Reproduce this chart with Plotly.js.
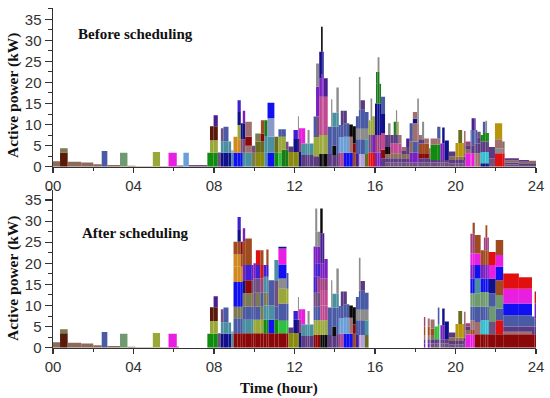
<!DOCTYPE html>
<html><head><meta charset="utf-8">
<script src="https://cdn.plot.ly/plotly-3.0.1.min.js"></script>
<style>html,body{margin:0;padding:0;background:#fff}#c{width:550px;height:398px}</style>
</head><body><div id="c"></div>
<script>
// Each row: start hour, end hour, cumulative stack tops (kW), appliance colour keys
const nightShared = [
 [0,.35,[1.3],'a'],[.35,.73,[3.4,4.4],'bc'],[.73,1.4,[1.2],'a'],[1.4,2,[1],'a'],[2,2.42,[.6],'a'],
 [2.42,2.7,[3.7],'d'],[2.7,3.33,[.4],'a'],[3.33,3.7,[3.3],'e'],[3.7,4.1,[.2],'a'],[4.1,4.96,[.1],'a'],
 [4.96,5.32,[3.5],'f'],[5.32,5.74,[.1],'a'],[5.74,6.15,[3.3],'g'],[6.15,6.25,[.3],'a']];
const nightBeforeOnly = [[6.25,6.48,[.3],'y'],[6.48,6.75,[3.3],'h'],[6.75,7.67,[.4],'y']];
const morningShared = [
 [7.67,7.8,[3.3],'i'],[7.8,7.98,[3.3,6.3,9.6],'ifb'],[7.98,8.19,[3.3,6.3,9.6,12.2],'ifbC'],
 [8.19,8.34,[3.4],'y'],[8.34,8.47,[3.3,6,9.1],'jly'],[8.47,8.72,[3.3,6,9.5],'jld'],
 [8.72,8.85,[3.3,6],'jl'],[8.85,8.97,[3.4,3.9],'lA']];
const morningBefore = [
 [8.97,9.17,[3.3,7.1],'kq'],[9.17,9.33,[3.3,6.5,9.9,13,15.8],'kqfjG'],[9.33,9.43,[3.3,6.5,10.3],'kyj'],
 [9.43,9.55,[3.3,6.5,10.3,13.3],'lyjo'],[9.55,9.88,[3.3,5,7.1,10.7],'lEnE'],[9.88,10.05,[3.3,5],'cy'],
 [10.05,10.33,[3.3,6,7.9],'mHc'],[10.33,10.5,[3.3,6,7.9,11],'mHnB'],[10.5,10.66,[3.3,7.3,11],'llF'],
 [10.66,11,[3.3,7.2,11.5,15.2],'kluk'],[11,11.2,[3.3,7.1],'iH'],[11.2,11.37,[3.3,7.1,8.9],'zfd'],
 [11.37,11.57,[4,7.1,8.9],'Ffd'],[11.57,11.7,[4,5.9],'Fy']];
const morningAfter = [
 [8.97,9.17,[3.4,7,9.7,12.5,15.6,19.2,22.1,25.1],'ndckkqqB'],
 [9.17,9.33,[3.4,7,9.7,12.5,15.6,19.2,22.1,25.1,27.9,31],'ndckkqqBjG'],
 [9.33,9.43,[3.4,7,9.7,12.5,15.6,19.2,22.1,25.1],'ndckkqBn'],
 [9.43,9.55,[3.4,6.6,9.7,12.9,16,19.6,25.1,28.3],'nldcjoBo'],
 [9.55,9.88,[3.4,6.6,9.7,12.9,16,19.6,25.9],'nldcnGB'],[9.88,9.96,[3.4,6.6,9.7,12.9,16,19.6],'nldcyo'],
 [9.96,10.08,[3.4,6.6,9.7,13,16.4,20],'nfdyyo'],[10.08,10.3,[3.4,6.6,9.7,13,16.4,19.6,23.1],'nfdcyGp'],
 [10.3,10.46,[3.4,6.6,9.7,13,16.4,19.6,23.1],'nfcdrpB'],[10.46,10.6,[3.4,6.6,10,13,16.8,19.6],'nilclG'],
 [10.6,10.71,[3.4,6.6,10,13,16.8,19.6,23.3],'nilclGB'],[10.71,11,[3.4,6.6,10,16],'nkld'],
 [11,11.2,[3.4,6.6,9.7,15.8,20.8],'nidyl'],[11.2,11.6,[3.4,6.4,10.5,14,16.4,19.7,23.5,23.9],'nzdfvkgj'],
 [11.6,11.7,[3.4,6.4,10.5,14,17.7],'nzdfd']];
const noonShared = [
 [11.7,11.95,[3.5,4.8],'mD'],[11.95,12.17,[3.5,6.6,8.7],'mjG'],[12.17,12.22,[3.5,6.6,12],'mjv'],
 [12.22,12.33,[3.5,6.6,9.1],'jrg'],[12.33,12.53,[2.8,5.5,9.1],'Dlg'],[12.53,12.65,[2.8,5.5],'Dl'],
 [12.65,12.75,[2.8,5.5,8.7],'Dlv'],[12.75,12.95,[2.8,5.5],'Dl']];
const peakBefore = [
 [12.95,13.07,[2.5,7,11.9],'Dfd'],[13.07,13.23,[2.5,7,12,19,24.5],'Dfyov'],
 [13.23,13.32,[3,7.5,16.6,21,27.3],'tfsoj'],[13.32,13.4,[3,7.5,16.6,22,27.3,33.2],'tfsojt'],
 [13.4,13.45,[3,7.5,16.6,21,27.3],'tfsoj'],[13.45,13.65,[3,7.5,16.6,21],'tfsC']];
const peakAfter = [
 [12.95,13.03,[3,6.5,9.7,13,16.8,24],'nfdyGo'],[13.03,13.13,[3,6.5,9.7,13,16.8,20,24,27.5,33],'nfdyGGovv'],
 [13.13,13.28,[3,6.5,9.7,13,16.8,20,24,27.5],'nfdyrGov'],[13.28,13.4,[3,6.5,10,13.7,16.4,20,27.1,33],'tfssroCt'],
 [13.4,13.48,[3,6.5,10,13.7,16.4,20,27.1],'tfssroC'],[13.48,13.65,[3,6.5,10,13.7,16.4,21],'tfssro']];
const afternoonShared = [
 [13.65,13.82,[3,9.5],'Dd'],[13.82,13.88,[3,9.5,16],'Ddv'],[13.88,14.08,[2.8,5,9.5,12.8],'Dtdl'],
 [14.08,14.2,[3,9.5,12.8,18.8],'Ddlv'],[14.2,14.3,[3.3,7,9.9],'rhd'],[14.3,14.44,[3.3,7,9.9,13.3],'shdD'],
 [14.44,14.6,[3.3,7.1,10.3,13.3],'khdD'],[14.6,14.72,[3.3,7.1,10.3],'khd'],[14.72,14.9,[3.3,7.1,10],'kEt'],
 [14.9,15.05,[3.3,5.5,9.6],'Bnt'],[15.05,15.2,[3,6.5,9,12],'Cdvd'],[15.2,15.28,[3,6.5,9,13.5,21.3],'Advdv'],
 [15.28,15.5,[3,6.5,9,13.5,15.8],'AdvdD'],[15.5,15.68,[3,6.5,9,13],'Hlvd']];
const afternoonBefore = [
 [15.68,15.78,[3.3,7.5,11],'pyf'],[15.78,15.86,[3.3,7.5,11,16.2],'pyfv'],[15.86,16,[3.3,7.5,12],'pof'],
 [16,16.05,[3.3,7.5,15],'orj'],[16.05,16.13,[3.3,7.5,15,19.7,22.5],'orjFF'],[16.13,16.22,[3.3,7.5,15,22.5,26],'orjFv'],
 [16.22,16.3,[3.3,7.5,15,19.7],'orjF'],[16.3,16.5,[2,4,8,12.5,16.6],'Dnsjd'],
 [16.5,16.65,[1,2,3,4.7,7.5],'yDatD'],[16.65,16.77,[1,2,3,4.7,7.5,10.3],'yDatDv'],
 [16.77,16.93,[1,2,3.2,5.5,7.5],'yDasD'],[16.93,17.04,[1,2,3.2,5.5,7.5,10.7],'yDasDF'],
 [17.04,17.1,[1,2,3.2,5.5,7.5,13.4],'yDasDv'],[17.1,17.18,[1,2,3.2,5.5,7.5,10.7],'yDasDf'],
 [17.18,17.32,[1,2,3.2,5.5,7.5],'yDasE'],[17.32,17.55,[1,2,3,3.9,4.7],'yDaDE'],[17.55,17.72,[1,2,3,4.7,6.7],'yDaDC'],
 [17.72,17.88,[1,3.3,6,10.3],'yoad'],[17.88,18.1,[1,3.3,6,10.3,11.4,13],'yodEjE'],[18.1,18.18,[1,3.3,6,10.3,16.2],'yodEv'],
 [18.18,18.34,[1,2,3,5.5,6.5,7.5],'yDnBDE'],[18.34,18.44,[1,2,3,5.5,6.5,10.7],'yDnBDv'],[18.44,18.68,[1,2,3,5.5,6.7],'yDnBE'],
 [18.68,18.76,[1,2,3,4.4],'yDaE'],[18.76,19.09,[1,1.6,5.2,6.7],'yDiE'],[19.09,19.25,[1,1.6,5.2,6.7,9.5],'yDiEd'],
 [19.25,19.34,[1,1.6,5.5],'yDo'],[19.34,19.46,[1,1.6,5.5,9.3],'yDoj'],[19.46,19.67,[1,1.6,6.2],'yDj']];
const dipShared = [
 [19.67,20,[.8,1.6,2.4,3.6],'yDaD'],[20,20.14,[.8,1.6,2.4,5.6],'yDaw'],[20.14,20.33,[.8,1.6,2.4,5.6,8.7],'yDawH'],
 [20.33,20.42,[.8,1.6,2.4,5.6],'yDaw'],[20.42,20.5,[1.6,2.4,3,8.5],'yDaE']];
const eveningBefore = [
 [20.5,20.75,[3.2,4.2,5.1,6],'gaDr'],[20.75,20.8,[3.2,5.1,8.7],'gDd'],[20.8,20.94,[3.2,5.1,8.7,11.5],'gDdC'],
 [20.94,21,[3.2,5.5,8.7,11.5],'EDdC'],[21,21.08,[3.2,5.5,8.7],'EDd'],[21.08,21.25,[3.2,5.5,7,8.3],'EDDy'],
 [21.25,21.36,[.8,3.5,6,7.5],'jxDF'],[21.36,21.49,[.8,3.5,6,8,10.7],'jxDid'],[21.49,21.57,[.8,3.5,6,8,10.9],'jxDiv'],
 [21.57,21.66,[.8,3.5,6,8],'jxDi'],[21.66,21.96,[2,4.7],'yD'],[21.96,22.32,[3.2,4.4,6.5,10.3],'pvEw'],
 [22.32,22.44,[3.2,4.4,6],'pEa'],[22.44,23.15,[.5,1,1.5,2],'yDaD'],[23.15,23.65,[.4,.8,1.2,1.6],'yDaD'],[23.65,24,[.4,.8,1.4],'yDa']];
const lateAfterStart = [
 [18.43,18.5,[1,2,3,5,7.3],'oDEBr'],[18.62,18.72,[1,2,3,5,6.9],'oDEBE'],[18.76,18.96,[1,2,3,4.5,6.7],'yDaBE'],
 [18.96,19.12,[1,2,5],'yDz'],[19.12,19.2,[1,2,5.5,9.5],'yDzd'],[19.25,19.34,[1,2,5.3],'yDo'],
 [19.34,19.46,[1,2,5.3,9.3],'yDoj'],[19.46,19.67,[1,2,6.2],'yDj']];
const eveningAfter = [
 [20.5,20.74,[3.1,4.2,5,5.8],'gaDr'],[20.74,20.85,[3.1,4.2,6.5,9.7,12.9,16.4,19.6,22.3,27],'gBEdekogr'],
 [20.85,20.96,[3.1,4.2,6.5,9.7,12.9,16.4,19.6,22.3,27,29.6],'gBEdekogrB'],
 [20.96,21.25,[3.2,6.1,9.7,12.9,16.4,19.6,22.3,26.7],'nEdelkgB'],[21.25,21.41,[3.2,6.5,9.7,13.2,16.4,19.6,23.1],'nxdekoB'],
 [21.41,21.49,[3.2,6.5,9.7,13.2,16.4,19.6,23.1,26.1],'nxdekoBr'],[21.49,21.58,[3.2,6.5,9.7,13.2,16.4,19.6,23.1,26.1,29],'nxdekoBrB'],
 [21.58,21.66,[3.2,6.5,9.7,13.2,16.4,19.6,23.1,26.1],'nxdekoBr'],[21.66,22,[3.2,6.1,9.7,12.9,16.4,19.6,22.7],'nyedjgp'],
 [22,22.37,[3.2,6.5,9.3,12.5,16,19.2,22,25.5],'npdeBkgB'],[22.37,23.15,[3.2,3.8,5,7.7,10.5,14,17.6],'nEDdkgp'],
 [23.15,23.8,[3.2,3.8,5,7.7,10.5,14,16.7],'nEDdkgp'],[23.8,23.93,[3.2,5,7.4],'nDd'],[23.93,24,[3.2,5,7,10.5,13.3],'nDdop']];

const xTickVals = [0,4,8,12,16,20,24];
const xTickText = ['00','04','08','12','16','20','24'];
const yTickVals = [0,5,10,15,20,25,30,35];

const appliancePalette = {a:'#8d6b5a',b:'#5a1a0a',c:'#7c7a52',d:'#4a5aa5',e:'#6f9a70',f:'#9aa83a',g:'#e81ee0',h:'#6a9fd8',
 i:'#108a10',j:'#10108a',k:'#1010f0',l:'#4a90a0',m:'#8a8a10',n:'#8a0808',o:'#7a20c0',p:'#e01010',q:'#d08a20',r:'#a04080',
 s:'#c04890',t:'#0a0a0a',u:'#8a9ac8',v:'#8c8c8c',w:'#b8960c',x:'#30c0d0',y:'#705080',z:'#30c040',A:'#b0a0d8',B:'#a04a20',
 C:'#4a2090',D:'#5a3a80',E:'#a07070',F:'#1a7a1a',G:'#4020d0',H:'#6a6a20'};

function stackTrace(rows, xa, ya){
  const x=[],y=[],base=[],width=[],color=[];
  rows.forEach(([t0,t1,tops,ids])=>{
    let prev=0;
    tops.forEach((top,i)=>{
      x.push((t0+t1)/2); width.push(t1-t0); base.push(prev); y.push(top-prev);
      color.push(appliancePalette[ids[i]]); prev=top;
    });
  });
  return {type:'bar',x,y,base,width,xaxis:xa,yaxis:ya,marker:{color,line:{width:0}},hoverinfo:'skip',showlegend:false};
}
const beforeRows=[...nightShared,...nightBeforeOnly,...morningShared,...morningBefore,...noonShared,...peakBefore,...afternoonShared,...afternoonBefore,...dipShared,...eveningBefore];
const afterRows=[...nightShared,...morningShared,...morningAfter,...noonShared,...peakAfter,...afternoonShared,...lateAfterStart,...dipShared,...eveningAfter];

const H=398,W=550;
const dom=(p0,p1)=>[(H-p0)/H,(H-p1)/H];
const xAxis=(a)=>({anchor:a,domain:[53/W,536/W],range:[0,24],tickmode:'array',tickvals:xTickVals,ticktext:xTickText,
  ticks:'outside',ticklen:5,tickwidth:1.2,tickcolor:'#333',showline:true,linecolor:'#333',linewidth:1.5,showgrid:false,zeroline:false,
  tickfont:{family:'"Liberation Sans",Arial,sans-serif',size:15,color:'#333'},
  minor:{tickvals:[2,6,10,14,18,22],ticks:'outside',ticklen:3,tickwidth:1,tickcolor:'#333',showgrid:false}});
const yAxis=(a,range,d)=>({anchor:a,domain:d,range,tickmode:'array',tickvals:yTickVals,
  ticks:'outside',ticklen:7,tickwidth:1.2,tickcolor:'#333',showline:true,linecolor:'#333',linewidth:1.5,showgrid:false,zeroline:false,
  tickfont:{family:'"Liberation Sans",Arial,sans-serif',size:15,color:'#333'},
  minor:{dtick:2.5,ticks:'outside',ticklen:4,tickwidth:1,tickcolor:'#333',showgrid:false}});
const serif='"Liberation Serif","Times New Roman",serif';
const note=(text,x,y,size,angle,xanchor)=>({text,xref:'paper',yref:'paper',x:x/W,y:(H-y)/H,xanchor,yanchor:'middle',showarrow:false,
  textangle:angle,font:{family:serif,size,color:'#111'}});
const layout={width:W,height:H,margin:{l:0,r:0,t:0,b:0},paper_bgcolor:'#fff',plot_bgcolor:'#fff',barmode:'overlay',showlegend:false,
  xaxis:xAxis('y'),yaxis:yAxis('x',[0,37.68],dom(166.7,8)),
  xaxis2:xAxis('y2'),yaxis2:yAxis('x2',[0,37.5],dom(347.7,189.5)),
  annotations:[
    note('<b>Before scheduling</b>',76,34,15,0,'left'),
    note('<b>After scheduling</b>',80,233,15,0,'left'),
    note('<b>Active power (kW)</b>',13,96,15.5,-90,'center'),
    note('<b>Active power (kW)</b>',13,279,15.5,-90,'center'),
    note('<b>Time (hour)</b>',279,388,15,0,'center')]};
Plotly.newPlot('c',[stackTrace(beforeRows,'x','y'),stackTrace(afterRows,'x2','y2')],layout,{displayModeBar:false,staticPlot:true});
</script></body></html>
